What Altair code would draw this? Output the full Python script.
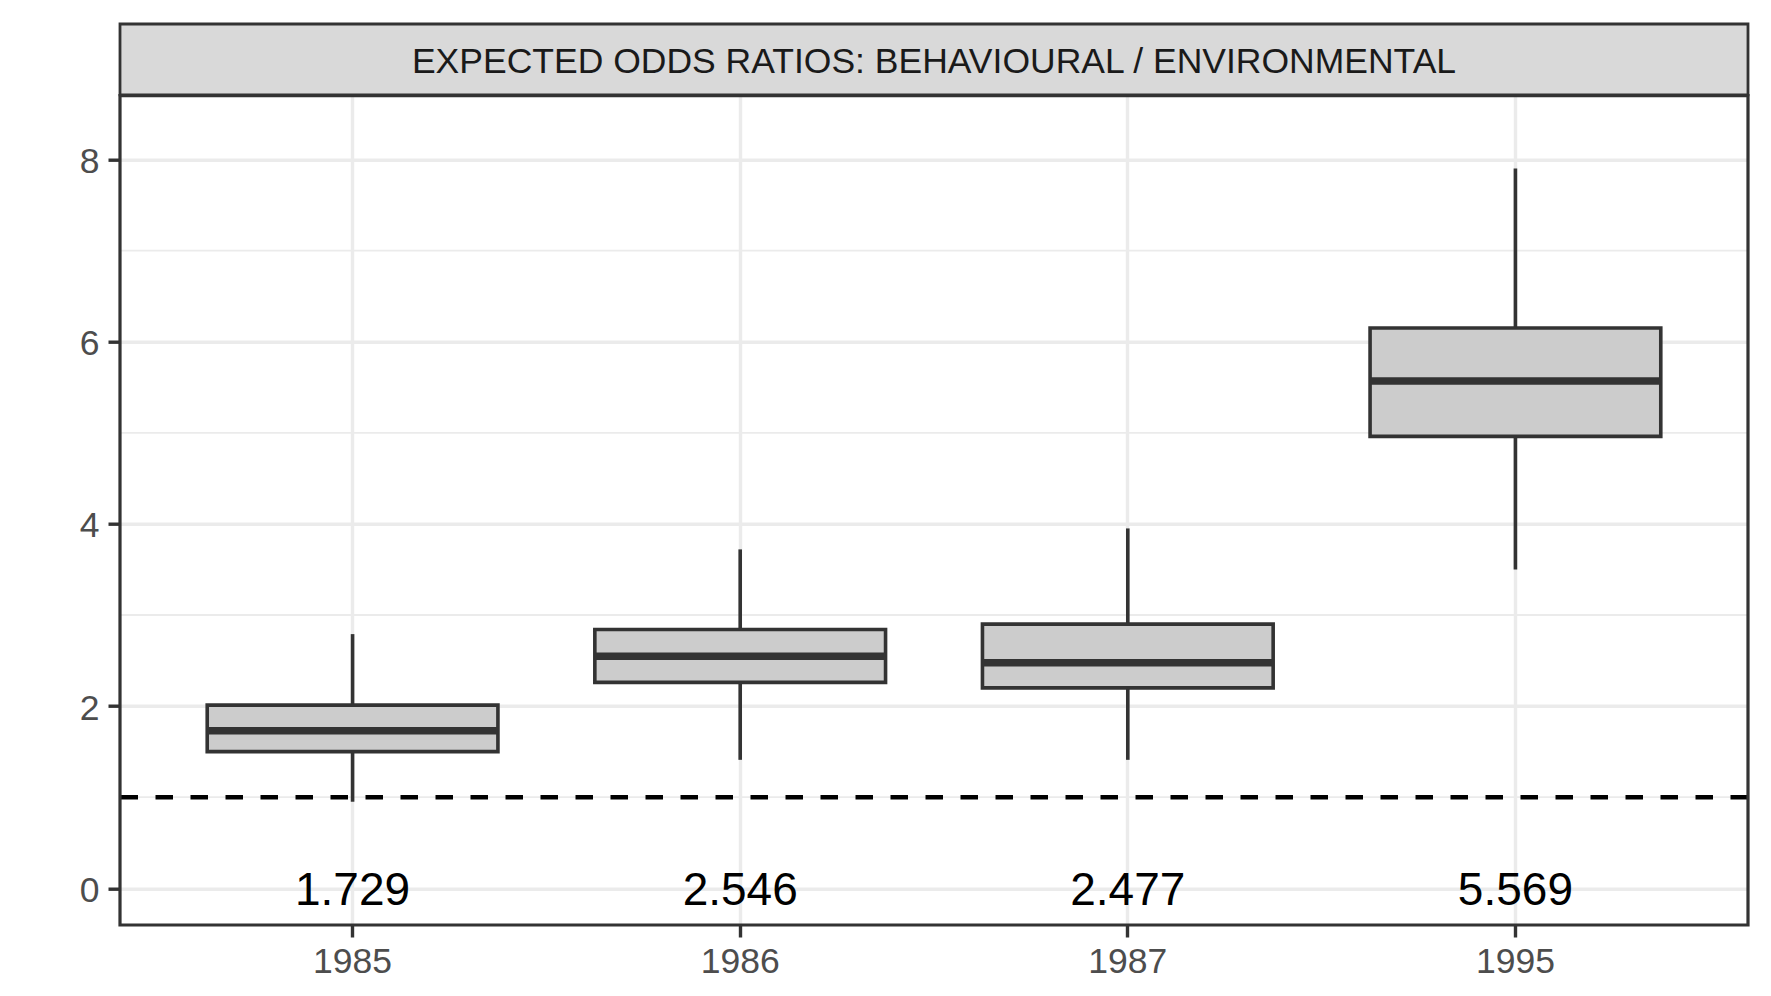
import altair as alt
import pandas as pd

# ---- data ----
years = ["1985", "1986", "1987", "1995"]
whisker_low = [0.95, 1.41, 1.41, 3.50]
q1 = [1.50, 2.26, 2.20, 4.96]
medians = [1.729, 2.546, 2.477, 5.569]
q3 = [2.01, 2.84, 2.90, 6.15]
whisker_high = [2.79, 3.72, 3.95, 7.90]
major_breaks = [0, 2, 4, 6, 8]
minor_breaks = [1, 3, 5, 7]
reference_line = 1
strip_title = "EXPECTED ODDS RATIOS: BEHAVIOURAL / ENVIRONMENTAL"

df = pd.DataFrame({
    "year": years, "lo": whisker_low, "q1": q1, "median": medians,
    "q3": q3, "hi": whisker_high,
})
minor_df = pd.DataFrame({"v": minor_breaks})

W, H = 1628, 829.3
FONT = "Liberation Sans"
DARK = "#333333"
GRID = "#EBEBEB"
LW = 3.6

x_scale = alt.Scale(type="band", paddingInner=0.25, paddingOuter=0.225)
y_scale = alt.Scale(domain=[-0.403, 8.70], nice=False, zero=False)

x_axis = alt.Axis(title=None, bandPosition=0.5, grid=True, gridColor=GRID, gridWidth=3.4,
                  tickColor=DARK, tickWidth=3.4, tickSize=12, labelFontSize=35.5,
                  labelColor="#4D4D4D", labelFont=FONT, domain=False, labelPadding=7,
                  labelAngle=0)
y_axis = alt.Axis(title=None, values=major_breaks, format="d", grid=True, gridColor=GRID,
                  gridWidth=3.4, tickColor=DARK, tickWidth=3.4, tickSize=12,
                  labelFontSize=35.5, labelColor="#4D4D4D", labelFont=FONT, domain=False,
                  labelPadding=9, labelOffset=2)

X = alt.X("year:N", scale=x_scale, axis=x_axis, sort=years)

base = alt.Chart(df)

minor = alt.Chart(minor_df).mark_rule(color=GRID, strokeWidth=1.8).encode(
    y=alt.Y("v:Q", scale=y_scale, axis=y_axis)
)

lower_whisker = base.mark_rule(color=DARK, strokeWidth=LW).encode(
    x=X, y=alt.Y("lo:Q", scale=y_scale, axis=y_axis), y2="q1:Q"
)
upper_whisker = base.mark_rule(color=DARK, strokeWidth=LW).encode(
    x=X, y=alt.Y("q3:Q", scale=y_scale, axis=y_axis), y2="hi:Q"
)
boxes = base.mark_bar(fill="#CCCCCC", stroke=DARK, strokeWidth=LW).encode(
    x=X, y=alt.Y("q1:Q", scale=y_scale, axis=y_axis), y2="q3:Q"
)
median_line = base.mark_tick(color=DARK, orient="horizontal", size=290.7,
                             thickness=7.5, opacity=1).encode(
    x=X, y=alt.Y("median:Q", scale=y_scale, axis=y_axis)
)
dashed = alt.Chart(pd.DataFrame({"r": [reference_line]})).mark_rule(
    color="black", strokeWidth=4.4, strokeDash=[17.5, 17.5]
).encode(y=alt.Y("r:Q", scale=y_scale, axis=y_axis))

labels = base.mark_text(font=FONT, fontSize=46, color="black", baseline="middle",
                        align="center", dy=2.7).encode(
    x=X, y=alt.YDatum(0),
    text=alt.Text("median:Q", format=".3f")
)

frame_df = pd.DataFrame({"t": [strip_title]})

panel_border = alt.Chart(frame_df).mark_rect(
    fill=None, stroke=DARK, strokeWidth=3.2
).encode(x=alt.value(0), x2=alt.value(W), y=alt.value(0), y2=alt.value(H))

strip_rect = alt.Chart(frame_df).mark_rect(
    fill="#D9D9D9", stroke=DARK, strokeWidth=2.8
).encode(x=alt.value(0), x2=alt.value(W), y=alt.value(-71.7), y2=alt.value(-0.8))

strip_text = alt.Chart(frame_df).mark_text(
    font=FONT, fontSize=35.5, color="#1A1A1A", baseline="middle", align="center", dy=2
).encode(x=alt.value(W / 2), y=alt.value(-35.85), text="t:N")

chart = alt.layer(
    minor, lower_whisker, upper_whisker, boxes, median_line, dashed, labels,
    panel_border, strip_rect, strip_text
).properties(
    width=W, height=H,
    padding={"left": 112, "top": 87.7, "right": 10, "bottom": 66},
    autosize=alt.AutoSizeParams(type="none"),
    background="white",
).configure_view(
    stroke=None, fill="white"
).configure(font=FONT)

chart.save("out.html", embed_options={"renderer": "svg", "actions": False})
